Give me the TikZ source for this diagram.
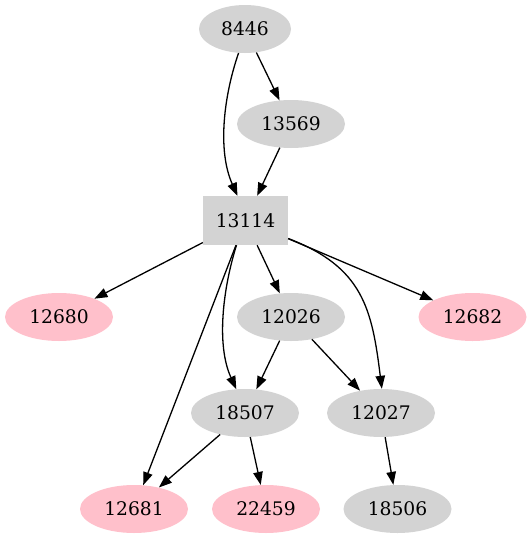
\documentclass[tikz,border=0pt]{standalone}
\usepackage{fontspec}
\setmainfont{DejaVu Serif}
\usetikzlibrary{arrows.meta,shapes.geometric}
\definecolor{gvgray}{HTML}{D3D3D3}
\definecolor{gvpink}{HTML}{FFC0CB}

\begin{document}
\begin{tikzpicture}[
  x=1pt, y=-1pt,
  blob/.style={ellipse, fill=gvgray, inner sep=0pt, minimum width=108pt,
    minimum height=48pt, font=\fontsize{18.7}{22}\selectfont},
  short/.style={blob, minimum width=92pt},
  hit/.style={blob, fill=gvpink},
  hub/.style={rectangle, fill=gvgray, inner sep=0pt, minimum width=85pt,
    minimum height=49pt, font=\fontsize{18.7}{22}\selectfont},
  arr/.style={-{Triangle[length=13pt, width=9.5pt]}, line width=1.3pt}
]
\useasboundingbox (0,0) rectangle (531,539);

% Top
\node[short] (n8446) at (245,29) {8446};
\node[blob] (n13569) at (291,124) {13569};

% Hub
\node[hub] (n13114) at (245.5,220.5) {13114};

% Middle row
\node[hit] (n12680) at (59,317) {12680};
\node[blob] (n12026) at (291,317) {12026};
\node[hit] (n12682) at (472.5,317) {12682};

% Lower row
\node[blob] (n18507) at (245,413) {18507};
\node[blob] (n12027) at (381,413) {12027};

% Bottom
\node[hit] (n12681) at (134,509) {12681};
\node[hit] (n22459) at (266,509) {22459};
\node[blob] (n18506) at (397.5,509) {18506};

\draw[arr] (n8446.255) .. controls (224,95) and (217,150) .. ([xshift=-8pt]n13114.north);
\draw[arr] (n8446) -- (n13569);
\draw[arr] (n13569) -- (n13114);
\draw[arr] (n13114) -- (n12680);
\draw[arr] (n13114) -- (n12026);
\draw[arr] (n13114) -- (n12682);
\draw[arr] (n13114) -- (n12681);
\draw[arr] ([xshift=-9pt]n13114.south) .. controls (223,288) and (216,345) .. (n18507.110);
\draw[arr] ([yshift=-18pt]n13114.east) .. controls (363,267) and (372,309) .. (n12027.88);
\draw[arr] (n12026) -- (n18507);
\draw[arr] (n12026) -- (n12027);
\draw[arr] (n18507) -- (n12681);
\draw[arr] (n18507) -- (n22459);
\draw[arr] (n12027) -- (n18506);

\end{tikzpicture}
\end{document}
